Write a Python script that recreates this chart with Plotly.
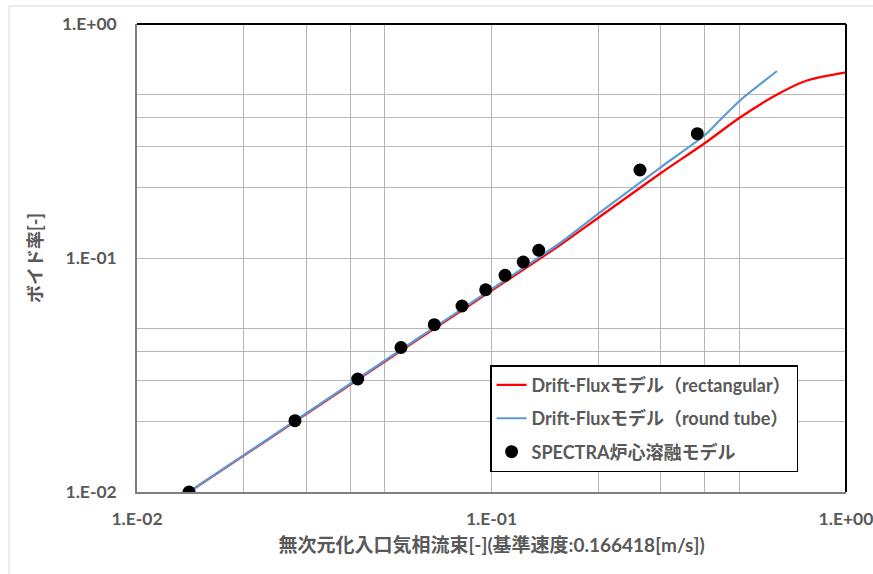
import plotly.graph_objects as go

# SPECTRA core-melt model results
spectra_x = [0.01402, 0.02790, 0.04194, 0.05554, 0.06896, 0.08257, 0.09630,
             0.1092, 0.1229, 0.1359, 0.2623, 0.3806]
spectra_y = [0.0100, 0.02017, 0.03040, 0.04145, 0.05188, 0.06234, 0.07317,
             0.08436, 0.09614, 0.1079, 0.2377, 0.3398]

# Drift-Flux model, rectangular channel
rect_x = [0.01402, 0.02790, 0.06285, 0.1561, 0.1997, 0.3007, 0.4002, 0.5023,
          0.6430, 0.7762, 1.0]
rect_y = [0.0100, 0.02001, 0.04551, 0.1136, 0.1482, 0.2308, 0.3100, 0.3986,
          0.5022, 0.5735, 0.6218]

# Drift-Flux model, round tube
tube_x = [0.01402, 0.06285, 0.1561, 0.1997, 0.3007, 0.4002, 0.4413, 0.5023, 0.6390]
tube_y = [0.0100, 0.04597, 0.1159, 0.1542, 0.2448, 0.3354, 0.3888, 0.4711, 0.6297]

# Log-axis grid: decades plus 2..5 subdivisions
x_tickvals = [0.01, 0.02, 0.03, 0.04, 0.05, 0.1, 0.2, 0.3, 0.4, 0.5, 1.0]
x_ticktext = ["1.E-02", "", "", "", "", "1.E-01", "", "", "", "", "1.E+00"]
y_tickvals = [0.01, 0.02, 0.03, 0.04, 0.05, 0.1, 0.2, 0.3, 0.4, 0.5, 1.0]
y_ticktext = ["1.E-02", "", "", "", "", "1.E-01", "", "", "", "", "1.E+00"]

FONT = "Lato, 'Noto Sans CJK JP', sans-serif"
GRAY = "#595959"

fig = go.Figure()
fig.add_trace(go.Scatter(
    x=rect_x, y=rect_y, mode="lines", name="<b>Drift-Fluxモデル（rectangular）</b>",
    line=dict(color="#ff0000", width=2.3, shape="spline", smoothing=0.8),
    legendgroup="a"))
fig.add_trace(go.Scatter(
    x=tube_x, y=tube_y, mode="lines", name="<b>Drift-Fluxモデル（round tube）</b>",
    line=dict(color="#5b9bd5", width=2.2, shape="spline", smoothing=0.6),
    legendgroup="b"))
fig.add_trace(go.Scatter(
    x=spectra_x, y=spectra_y, mode="markers", name="<b>SPECTRA炉心溶融モデル</b>",
    marker=dict(color="black", size=13), legendgroup="c"))

axis_common = dict(
    type="log", showgrid=True, gridcolor="#b7b7b7", gridwidth=1.3,
    showline=True, linecolor="#7f7f7f", linewidth=1.5,
    tickmode="array", ticks="", zeroline=False, automargin=False,
    ticklabeloverflow="allow",
    tickfont=dict(family=FONT, size=17.5, color=GRAY, weight="bold"),
)

fig.update_layout(
    width=873, height=574,
    margin=dict(l=137, r=27, t=24, b=82),
    paper_bgcolor="white", plot_bgcolor="white",
    font=dict(family=FONT, color=GRAY),
    xaxis=dict(
        axis_common, range=[-2, 0], tickvals=x_tickvals, ticktext=x_ticktext,
        ticklabelstandoff=10,
        title=dict(text="<b>無次元化入口気相流束[-](基準速度:0.166418[m/s])</b>",
                   font=dict(family=FONT, size=19, color=GRAY), standoff=11),
    ),
    yaxis=dict(
        axis_common, range=[-2, 0], tickvals=y_tickvals, ticktext=y_ticktext,
        ticklabelstandoff=15,
        title=dict(text="<b>ボイド率[-]</b>",
                   font=dict(family=FONT, size=18, color=GRAY), standoff=15),
    ),
    legend=dict(
        x=0.498, y=0.271, xanchor="left", yanchor="top",
        bordercolor="black", borderwidth=1.5, bgcolor="white",
        font=dict(family=FONT, size=18, color=GRAY),
        tracegroupgap=7, itemwidth=30,
    ),
    showlegend=True,
    shapes=[
        # outer chart frame
        dict(type="rect", xref="paper", yref="paper", x0=-0.1805, y0=-0.3,
             x1=1.1, y1=1.0385, line=dict(color="#d9d9d9", width=1), layer="below"),
        # top and right plot-area border
        dict(type="line", xref="paper", yref="paper", x0=0, y0=1, x1=1, y1=1,
             line=dict(color="black", width=2)),
        dict(type="line", xref="paper", yref="paper", x0=1, y0=0, x1=1, y1=1,
             line=dict(color="black", width=2)),
    ],
)

fig.write_html("out.html")
